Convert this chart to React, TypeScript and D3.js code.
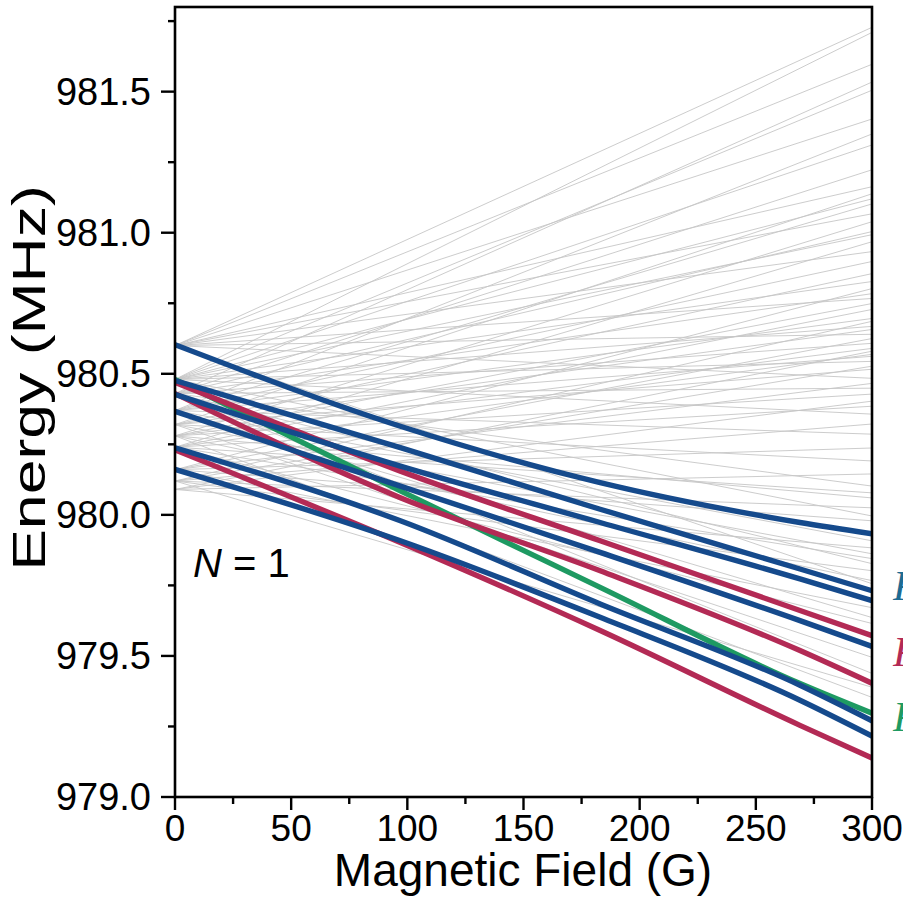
import React from "react";
import * as d3 from "d3";

// ---------- data ----------
const xTicks = [0, 50, 100, 150, 200, 250, 300];
const yTicks = [979.0, 979.5, 980.0, 980.5, 981.0, 981.5];

// field positions (G) at which the highlighted levels were read
const coloredFields = [0, 97, 183, 269, 300];

const blueA = [980.603, 980.314, 980.114, 979.973, 979.933];
const blueB = [980.476, 980.238, 980.02, 979.808, 979.731];
const blueC = [980.427, 980.173, 979.973, 979.773, 979.696];
const blueD = [980.367, 980.102, 979.867, 979.625, 979.534];
const blueE = [980.238, 979.979, 979.684, 979.396, 979.27];
const blueF = [980.161, 979.908, 979.637, 979.343, 979.216];
const red1 = [980.47, 980.155, 979.908, 979.661, 979.572];
const red2 = [980.43, 980.061, 979.802, 979.519, 979.403];
const red3 = [980.23, 979.902, 979.59, 979.254, 979.138];
const green1 = [980.48, 980.085, 979.743, 979.402, 979.297];

// gray levels: energy at 0 G and at 300 G
const grayStart = [
  980.6, 980.48, 980.6, 980.43, 980.48, 980.6, 980.37, 980.48, 980.43, 980.6,
  980.32, 980.48, 980.37, 980.6, 980.28, 980.43, 980.48, 980.24, 980.6, 980.37,
  980.32, 980.48, 980.16, 980.43, 980.6, 980.28, 980.24, 980.37, 980.12, 980.48,
  980.32, 980.6, 980.16, 980.43, 980.28, 980.09, 980.24, 980.37, 980.48, 980.12,
  980.32, 980.6, 980.16, 980.43, 980.28, 980.09, 980.24, 980.48, 980.12, 980.37,
  980.16, 980.32, 980.09, 980.43, 980.24, 980.28, 980.12, 980.48, 980.16, 980.37,
  980.09, 980.32, 980.24, 980.43, 980.12, 980.28, 980.6, 980.16, 980.37, 980.24,
  980.32, 980.43, 980.12, 980.28,
];
const grayEnd = [
  981.728, 981.71, 981.597, 981.534, 981.505, 981.403, 981.35, 981.311, 981.223, 981.163,
  981.138, 981.12, 981.102, 981.067, 981.039, 981.004, 980.993, 980.968, 980.933, 980.898,
  980.855, 980.827, 980.802, 980.784, 980.767, 980.749, 980.728, 980.696, 980.686, 980.668,
  980.657, 980.64, 980.625, 980.608, 980.59, 980.58, 980.569, 980.562, 980.544, 980.527,
  980.516, 980.484, 980.466, 980.449, 980.428, 980.403, 980.385, 980.357, 980.322, 980.286,
  980.237, 980.191, 980.145, 980.102, 980.078, 980.06, 980.025, 979.996, 979.979, 979.908,
  979.883, 979.862, 979.845, 979.827, 979.802, 979.767, 979.756, 979.671, 979.636, 979.615,
  979.495, 979.438, 979.389, 979.353,
];

const BLUE = "#154a8c";
const RED = "#b32a55";
const GREEN = "#1e9a62";

const coloredSeries = [
  { name: "green", values: green1, color: GREEN },
  { name: "red1", values: red1, color: RED },
  { name: "red2", values: red2, color: RED },
  { name: "red3", values: red3, color: RED },
  { name: "blueA", values: blueA, color: BLUE },
  { name: "blueB", values: blueB, color: BLUE },
  { name: "blueC", values: blueC, color: BLUE },
  { name: "blueD", values: blueD, color: BLUE },
  { name: "blueE", values: blueE, color: BLUE },
  { name: "blueF", values: blueF, color: BLUE },
];

// ---------- layout ----------
const W = 903;
const H = 907;
const L = 175;
const R = 872;
const T = 7;
const B = 797;
const FONT = "'Liberation Sans', Arial, sans-serif";

export default function App() {
  const x = d3.scaleLinear().domain([0, 300]).range([L, R]);
  const y = d3.scaleLinear().domain([979, 981.8]).range([B, T]);

  const straight = d3
    .line<[number, number]>()
    .x((d) => x(d[0]))
    .y((d) => y(d[1]));
  const curved = d3
    .line<[number, number]>()
    .x((d) => x(d[0]))
    .y((d) => y(d[1]))
    .curve(d3.curveMonotoneX);

  const xMinor = d3.range(0, 301, 25).filter((v) => v % 50 !== 0);
  const yMinor = [979.25, 979.75, 980.25, 980.75, 981.25, 981.75];

  return (
    <svg
      width={W}
      height={H}
      style={{ position: "absolute", left: 0, top: 0, background: "#fff" }}
    >
      <defs>
        <clipPath id="plotClip">
          <rect x={L} y={T} width={R - L} height={B - T} />
        </clipPath>
      </defs>
      <g clipPath="url(#plotClip)">
        {grayStart.map((s, i) => (
          <path
            key={"g" + i}
            d={straight([
              [0, s],
              [300, grayEnd[i]],
            ]) || ""}
            fill="none"
            stroke="#c6c6c6"
            strokeWidth={0.9}
          />
        ))}
        {coloredSeries.map((s) => (
          <path
            key={s.name}
            d={curved(coloredFields.map((f, i) => [f, s.values[i]] as [number, number])) || ""}
            fill="none"
            stroke={s.color}
            strokeWidth={5.4}
            strokeLinecap="round"
          />
        ))}
      </g>

      {/* frame */}
      <rect x={L} y={T} width={R - L} height={B - T} fill="none" stroke="#000" strokeWidth={2.6} />

      {/* x ticks */}
      {xTicks.map((t) => (
        <g key={"xt" + t}>
          <line x1={x(t)} x2={x(t)} y1={B} y2={B + 13} stroke="#000" strokeWidth={2.4} />
          <text
            x={x(t)}
            y={B + 44}
            textAnchor="middle"
            fontFamily={FONT}
            fontSize={37}
            fill="#000"
          >
            {t}
          </text>
        </g>
      ))}
      {xMinor.map((t) => (
        <line key={"xm" + t} x1={x(t)} x2={x(t)} y1={B} y2={B + 7} stroke="#000" strokeWidth={2.4} />
      ))}

      {/* y ticks */}
      {yTicks.map((t) => (
        <g key={"yt" + t}>
          <line x1={L - 14} x2={L} y1={y(t)} y2={y(t)} stroke="#000" strokeWidth={2.4} />
          <text
            x={L - 24}
            y={y(t) + 13}
            textAnchor="end"
            fontFamily={FONT}
            fontSize={38}
            fill="#000"
          >
            {t.toFixed(1)}
          </text>
        </g>
      ))}
      {yMinor.map((t) => (
        <line key={"ym" + t} x1={L - 7} x2={L} y1={y(t)} y2={y(t)} stroke="#000" strokeWidth={2.4} />
      ))}

      {/* axis titles */}
      <text
        x={523}
        y={886}
        textAnchor="middle"
        fontFamily={FONT}
        fontSize={46}
        fill="#000"
      >
        Magnetic Field (G)
      </text>
      <text
        transform="translate(45,378) rotate(-90) scale(1.36,1)"
        textAnchor="middle"
        fontFamily={FONT}
        fontSize={46}
        fill="#000"
      >
        Energy (MHz)
      </text>

      {/* N = 1 label */}
      <text x={193} y={577} fontFamily={FONT} fontSize={40} fill="#000">
        <tspan fontStyle="italic">N</tspan>
        <tspan> = 1</tspan>
      </text>

      {/* right-hand labels (cut off by page edge) */}
      <text x={893} y={600} fontFamily="'Liberation Serif', serif" fontStyle="italic" fontSize={42} fill="#1d6b93">
        F = 3/2
      </text>
      <text x={893} y={666} fontFamily="'Liberation Serif', serif" fontStyle="italic" fontSize={42} fill={RED}>
        F = 1/2
      </text>
      <text x={893} y={731} fontFamily="'Liberation Serif', serif" fontStyle="italic" fontSize={42} fill={GREEN}>
        F = 5/2
      </text>
    </svg>
  );
}
